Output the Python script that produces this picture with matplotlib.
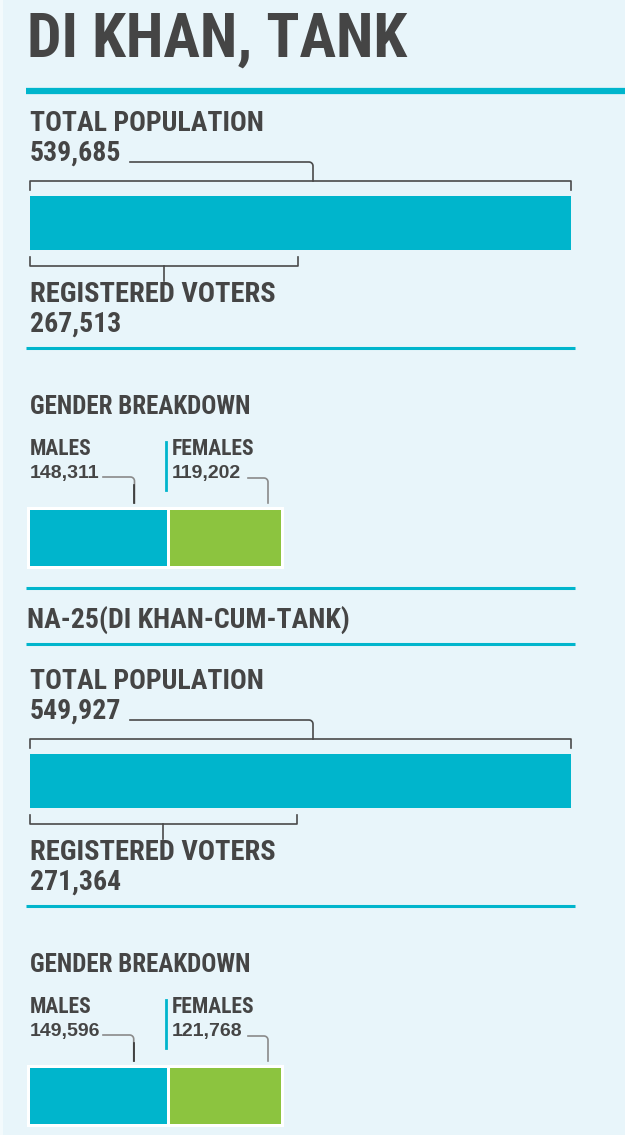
import numpy as np
import matplotlib
matplotlib.use("Agg")
import matplotlib.pyplot as plt
from matplotlib import font_manager as fm

# data
title = "DI KHAN, TANK"
constituency = "NA-25(DI KHAN-CUM-TANK)"
total_population = [539685, 549927]
registered_voters = [267513, 271364]
males = [148311, 149596]
females = [119202, 121768]

BG = "#E8F5FA"
TEAL = "#00B5CC"
GREEN = "#8CC43F"
TXT = "#454545"
LINE = "#4a4a4a"

# pick a condensed face if one is around
installed = {f.name for f in fm.fontManager.ttflist}
wanted = ["Roboto Condensed", "Archivo Narrow", "PT Sans Narrow",
          "Barlow Condensed", "Liberation Sans Narrow", "Open Sans Condensed"]
FONT = [n for n in wanted if n in installed][:1] + ["DejaVu Sans"]
WIDE = ["Liberation Sans", "DejaVu Sans"]

W, H = 625, 1135
fig = plt.figure(figsize=(W / 100, H / 100), dpi=100, facecolor=BG)
ax = fig.add_axes([0, 0, 1, 1])
ax.set_xlim(0, W)
ax.set_ylim(H, 0)
ax.axis("off")
ax.set_facecolor(BG)
ax.axvspan(0, 3, color="#F3FAFC", lw=0)


def txt(x, y, s, size, fam=FONT):
    ax.text(x, y, s, fontsize=size, fontweight="bold", color=TXT,
            family=fam, va="baseline", ha="left")


def hline(y, x0, x1, lw=2.2):
    ax.plot([x0, x1], [y, y], color=TEAL, lw=lw, solid_capstyle="butt")


def leader(x0, y0, xs, y1, color=LINE, r=4):
    # horizontal line then rounded corner going down
    a = np.linspace(0, np.pi / 2, 8)
    cx, cy = xs - r, y0 + r
    xa = cx + r * np.sin(a)
    ya = cy - r * np.cos(a)
    xx = np.concatenate([[x0], xa, [xs]])
    yy = np.concatenate([[y0], ya, [y1]])
    ax.plot(xx, yy, color=color, lw=1.2)


def block(off, i):
    tot = total_population[i]
    vot = registered_voters[i]
    left = 30
    full = 541
    k = full / tot

    txt(30, 131 + off, "TOTAL POPULATION", 20)
    txt(30, 161 + off, f"{tot:,}", 20)
    leader(130, 162 + off, 313, 181 + off)

    # bracket over total bar
    ax.plot([left, left, left + tot * k, left + tot * k],
            [190 + off, 181 + off, 181 + off, 190 + off], color=LINE, lw=1.2)

    ax.barh(223 + off, tot * k, left=left, height=54, color=TEAL)

    # bracket under bar for registered voters
    vw = vot * k
    ax.plot([left, left, left + vw, left + vw],
            [257 + off, 266 + off, 266 + off, 257 + off], color=LINE, lw=1.2)
    ax.plot([left + vw / 2] * 2, [266 + off, 281 + off], color=LINE, lw=1.2)

    txt(30, 302 + off, "REGISTERED VOTERS", 20.5)
    txt(30, 332 + off, f"{vot:,}", 20)
    hline(348 + off, 26, 575)

    txt(30, 414 + off, "GENDER BREAKDOWN", 18)

    g = 248 / vot
    mw = males[i] * g
    fw = females[i] * g
    fx = left + mw + 3

    txt(30, 455 + off, "MALES", 15.5)
    txt(30, 478 + off, f"{males[i]:,}", 14, WIDE)
    txt(172, 455 + off, "FEMALES", 15.5)
    txt(172, 478 + off, f"{females[i]:,}", 14, WIDE)
    ax.plot([166, 166], [442 + off, 490 + off], color=TEAL, lw=2)

    leader(103, 477 + off, left + mw - 33, 503 + off, color="#8a8a8a")
    ax.plot([left + mw - 33] * 2, [485 + off, 503 + off], color="#333333", lw=1.2)
    leader(248, 478 + off, fx + fw - 13, 503 + off, color="#8a8a8a")

    # white frame behind gender bars
    ax.barh(538 + off, fw + mw + 9, left=27, height=62, color="white")
    ax.barh(538 + off, mw, left=left, height=56, color=TEAL)
    ax.barh(538 + off, fw, left=fx, height=56, color=GREEN)


ax.text(27, 57, title, fontsize=44, fontweight="bold", color=TXT,
        family=FONT, va="baseline")
ax.plot([26, W], [91, 91], color=TEAL, lw=4.5, solid_capstyle="butt")

block(0, 0)
hline(588, 26, 575)
ax.text(27, 628, constituency, fontsize=20, fontweight="bold", color=TXT,
        family=FONT, va="baseline")
hline(644, 26, 575)
block(558, 1)

fig.savefig("out.png", dpi=100, facecolor=BG)
